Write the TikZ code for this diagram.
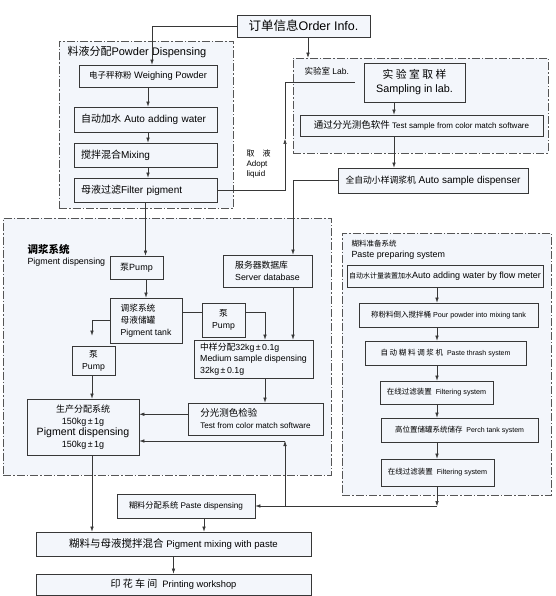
\documentclass[tikz,border=0pt]{standalone}
\usepackage{fontspec}
\setmainfont{Liberation Sans}
\newfontfamily\cjk{Noto Sans CJK SC}
\usetikzlibrary{arrows.meta, positioning}
\newcommand{\zh}[1]{{\cjk #1}}
\newcommand{\fs}[2]{\fontsize{#1}{#2}\selectfont}
\definecolor{tint}{RGB}{243,246,251}
\definecolor{ink}{RGB}{55,55,55}
\tikzset{
  box/.style={draw=ink, line width=0.8pt, fill=tint, inner sep=1pt, align=center},
  lbox/.style={box, align=left},
  zone/.style={draw=ink!85, line width=0.6pt, fill=tint, dash pattern=on 8pt off 2pt on 1.5pt off 2pt},
  arr/.style={draw=ink, line width=0.5pt, -{Latex[length=5pt,width=3.5pt]}},
  link/.style={draw=ink, line width=0.5pt},
}

\begin{document}
\begin{tikzpicture}[x=1pt,y=-1pt]
\useasboundingbox (0,0) rectangle (555,596);
% dashed regions
\node[zone, minimum width=174, minimum height=167] (zpow) at (146,124.5) {};
\node[zone, minimum width=255, minimum height=95] (zlab) at (420.5,105.5) {};
\node[zone, minimum width=328, minimum height=257] (zpig) at (167,346.5) {};
\node[zone, minimum width=209, minimum height=262] (zpst) at (446.5,364) {};
\node[anchor=north west, font=\fs{11}{13}] (tpow) at (64,43) {\zh{料液分配}Powder Dispensing};
\node[anchor=north west, font=\fs{8.5}{10}] (tlab) at (301,64) {\zh{实验室} Lab.};
\node[anchor=north west, align=left, font=\fs{8.9}{11}] (tpig) at (24,241) {{\fs{10.5}{12}\bfseries\zh{调浆系统}}\\Pigment dispensing};
\node[anchor=north west, align=left, font=\fs{8.9}{11}] (tpst) at (348,237) {{\fs{7.5}{9}\zh{糊料准备系统}}\\Paste preparing system};

% powder and lab
\node[box, minimum width=133, minimum height=22, font=\fs{12.5}{14}] (order) at (303.5,26) {\zh{订单信息}Order Info.};
\node[box, minimum width=138, minimum height=22, font=\fs{9.3}{11}] (weigh) at (148,76) {{\fs{8.5}{10}\zh{电子秤称粉}} Weighing Powder};
\node[lbox, text width=129, inner xsep=7, minimum height=25, font=\fs{10}{12}] (water) at (145.5,119.5) {\zh{自动加水} Auto adding water};
\node[lbox, text width=129, inner xsep=7, minimum height=24, font=\fs{10}{12}] (mix) at (145.5,155) {\zh{搅拌混合}Mixing};
\node[lbox, text width=129, inner xsep=7, minimum height=24, font=\fs{10}{12}] (filter) at (145.5,190) {\zh{母液过滤}Filter pigment};
\node[box, minimum width=101, minimum height=39, font=\fs{10.8}{14}] (sampling) at (414.5,82.5) {\zh{实 验 室 取 样}\\Sampling in lab.};
\node[box, minimum width=243, minimum height=21, font=\fs{8}{10}] (testsample) at (421.5,125.5) {{\fs{9.5}{11}\zh{通过分光测色软件}} Test sample from color match software};
\node[box, minimum width=190, minimum height=25, font=\fs{10}{12}] (autosample) at (433,180.5) {{\fs{8.8}{11}\zh{全自动小样调浆机}} Auto sample dispenser};
\node[anchor=north west, align=left, font=\fs{8}{10}] (adopt) at (243,146) {\zh{取}\quad\zh{液}\\Adopt\\liquid};

% pigment dispensing
\node[box, minimum width=53, minimum height=23, font=\fs{9}{11}] (pump1) at (136.5,267.5) {\zh{泵}Pump};
\node[lbox, minimum width=89, minimum height=32, font=\fs{8.8}{12}] (server) at (267.5,271) {\zh{服务器数据库}\\Server database};
\node[lbox, minimum width=72, minimum height=45, font=\fs{8.7}{12}] (tank) at (146,320.5) {\zh{调浆系统}\\\zh{母液储罐}\\Pigment tank};
\node[box, minimum width=43, minimum height=34, font=\fs{8.7}{12}] (pump2) at (223.5,320) {\zh{泵}\\Pump};
\node[box, minimum width=43, minimum height=29, font=\fs{8.7}{12}] (pumpL) at (93.5,360.5) {\zh{泵}\\Pump};
\node[lbox, minimum width=119, minimum height=38, font=\fs{8.8}{11.5}] (medium) at (253.5,359) {\zh{中样分配}32kg\,±\,0.1g\\Medium sample dispensing\\32kg\,±\,0.1g};
\node[lbox, minimum width=135, minimum height=32, font=\fs{8.1}{12}] (colortest) at (255.5,419) {{\fs{9.5}{12}\zh{分光测色检验}}\\Test from color match software};
\node[box, minimum width=112, minimum height=56, font=\fs{9}{11.5}] (prod) at (83,427) {\zh{生产分配系统}\\150kg\,±\,1g\\{\fs{10.6}{11.5}Pigment dispensing}\\150kg\,±\,1g};

% paste preparing
\node[box, minimum width=196, minimum height=22, font=\fs{9}{11}] (p1) at (445,276) {{\fs{7}{9}\zh{自动水计量装置加水}}Auto adding water by flow meter};
\node[box, minimum width=179, minimum height=24, font=\fs{7.2}{9}] (p2) at (448.5,315) {{\fs{7.5}{9}\zh{称粉料倒入搅拌桶}} Pour powder into mixing tank};
\node[box, minimum width=161, minimum height=24, font=\fs{7}{9}] (p3) at (445.5,353) {{\fs{7.5}{9}\zh{自 动 糊 料 调 浆 机}}\ \ Paste thrash system};
\node[box, minimum width=113, minimum height=23, font=\fs{7.2}{9}] (p4) at (436.5,392.5) {{\fs{7.5}{9}\zh{在线过滤装置}}\ \ Filtering system};
\node[box, minimum width=157, minimum height=24, font=\fs{7}{9}] (p5) at (459.5,430) {{\fs{7.5}{9}\zh{高位置储罐系统储存}}\ \ Perch tank system};
\node[box, minimum width=113, minimum height=27, font=\fs{7.2}{9}] (p6) at (437.5,472.5) {{\fs{7.5}{9}\zh{在线过滤装置}}\ \ Filtering system};

% mixing and printing
\node[box, minimum width=138, minimum height=24, font=\fs{8.2}{10}] (pastedisp) at (186,506) {\zh{糊料分配系统}\ Paste dispensing};
\node[box, minimum width=275, minimum height=24, font=\fs{9.6}{11}] (pmix) at (173.5,544) {{\fs{10.5}{12}\zh{糊料与母液搅拌混合}} Pigment mixing with paste};
\node[box, minimum width=275, minimum height=21, font=\fs{9.3}{11}] (print) at (173.5,584.5) {{\fs{10}{12}\zh{印 花 车 间}}\ \ Printing workshop};

% columns of the connectors
\coordinate (cw) at (152,0);
\coordinate (cl) at (308,0);
\coordinate (cs) at (394,0);
\coordinate (cd) at (293,0);
\coordinate (cm) at (265,0);
\coordinate (cp) at (92,0);
\coordinate (cq) at (437,0);
\coordinate (ce) at (204,0);
\coordinate (up) at (285,139);
\coordinate (jt) at (285,441);

\draw[arr] (order.west) -| (weigh.north -| cw);
\draw[arr] (order.south -| cl) -- (zlab.north -| cl);
\foreach \a/\b in {weigh/water, water/mix, mix/filter}
  \draw[arr] (\a.south -| weigh) -- (\b.north -| weigh);
\draw[arr] (filter.east) -| (up);
\draw[link] (up) |- ([xshift=-9]sampling.west);
\draw[arr] (sampling.south -| cs) -- (testsample.north -| cs);
\draw[arr] (testsample.south -| cs) -- (autosample.north -| cs);
\draw[arr] (autosample.west) -| (server.north -| cd);
\draw[arr] (filter.south) -- (filter.south |- pump1.north);
\draw[arr] (pump1.south -| tank) -- (tank.north);
\draw[arr, shorten >=10pt] (tank.west) -| (pumpL.north -| cp);
\draw[link] (tank.east |- pump2.160) -- (pump2.160);
\draw[arr] (pump2.20) -| (medium.north -| cm);
\draw[arr] (server.south -| cd) -- (medium.north -| cd);
\draw[arr] (medium.south -| cm) -- (colortest.north -| cm);
\draw[arr] (colortest.176) -- (colortest.176 -| prod.east);
\draw[arr] (pumpL.south -| cp) -- (prod.north -| cp);
\foreach \a/\b in {p1/p2, p2/p3, p3/p4, p4/p5, p5/p6}
  \draw[arr] (\a.south -| cq) -- (\b.north -| cq);
\draw[arr] (p6.south -| cq) -- (pastedisp.east -| cq);
\draw[arr] (pastedisp.east -| cq) -- (pastedisp.east);
\draw[arr] (pastedisp.east -| jt) -- (jt);
\draw[arr] (jt) -- (jt -| prod.east);
\draw[arr] (prod.south -| cp) -- (pmix.north -| cp);
\draw[arr] (pastedisp.south -| ce) -- (pmix.north -| ce);
\draw[arr] (pmix.south) -- (print.north);
\end{tikzpicture}
\end{document}
